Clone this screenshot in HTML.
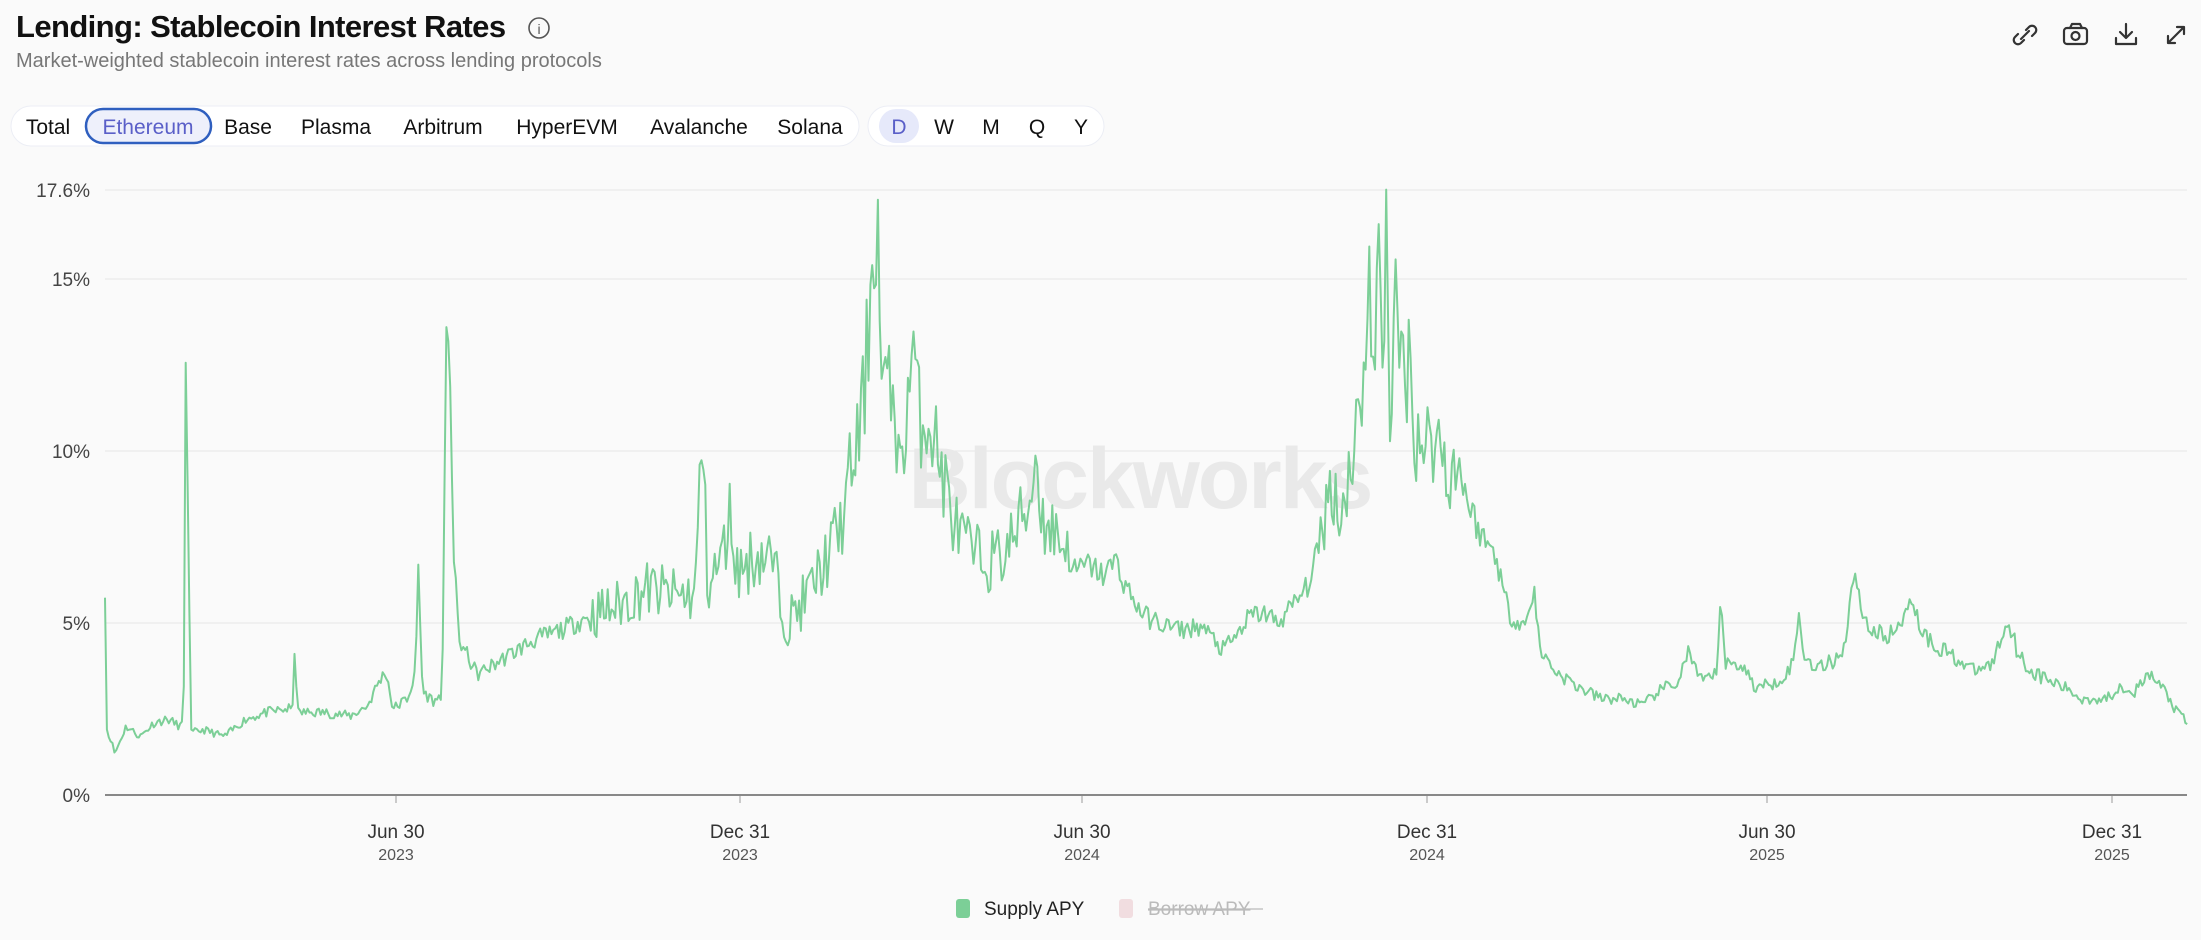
<!DOCTYPE html>
<html><head><meta charset="utf-8"><style>
html,body{margin:0;padding:0;width:2201px;height:940px;background:#fafafa;overflow:hidden;font-family:"Liberation Sans",sans-serif;}
svg text{font-family:"Liberation Sans",sans-serif;}
</style></head><body>
<svg id="s" width="2201" height="940" xmlns="http://www.w3.org/2000/svg">
<text x="16" y="37" font-size="31" font-weight="bold" fill="#111" letter-spacing="-0.6">Lending: Stablecoin Interest Rates</text>
<circle cx="539" cy="28" r="10" fill="none" stroke="#555" stroke-width="1.6"/>
<text x="539" y="34" font-size="14" fill="#555" text-anchor="middle">i</text>
<text x="16" y="67" font-size="20" fill="#777">Market-weighted stablecoin interest rates across lending protocols</text>
<rect x="11" y="106" width="848" height="40" rx="20" fill="#fff" stroke="#eceef5"/>
<rect x="86" y="109" width="125" height="34" rx="17" fill="#eef0fb" stroke="#2f5fbf" stroke-width="2.5"/>
<rect x="868" y="106" width="236" height="40" rx="20" fill="#fff" stroke="#eceef5"/>
<rect x="879" y="109" width="40" height="34" rx="17" fill="#e6e9fa"/>
<g font-size="21" fill="#111" text-anchor="middle">
<text x="48" y="134">Total</text>
<text x="148" y="134" fill="#5a5fc8">Ethereum</text>
<text x="248" y="134">Base</text>
<text x="336" y="134">Plasma</text>
<text x="443" y="134">Arbitrum</text>
<text x="567" y="134">HyperEVM</text>
<text x="699" y="134">Avalanche</text>
<text x="810" y="134">Solana</text>
<text x="899" y="134" fill="#5a5fc8">D</text>
<text x="944" y="134">W</text>
<text x="991" y="134">M</text>
<text x="1037" y="134">Q</text>
<text x="1081" y="134">Y</text>
</g>
<g fill="none" stroke="#333" stroke-width="2.2" stroke-linecap="round" stroke-linejoin="round">
<path d="M2021 39l8-8M2018 34l-3 3a4 4 0 0 0 6 6l3-3M2032 36l3-3a4 4 0 0 0-6-6l-3 3"/>
<rect x="2064" y="28" width="23" height="16" rx="3"/><path d="M2070 28l2-4h8l2 4"/><circle cx="2075.5" cy="36" r="4"/>
<path d="M2126 24v13M2120 32l6 6 6-6M2116 38v6h20v-6"/>
<path d="M2168 43l16-16M2177 27h7v7M2168 36v7h7"/>
</g>
<g stroke="#e6e6e6" stroke-width="1">
<line x1="105" x2="2187" y1="190" y2="190"/><line x1="105" x2="2187" y1="279" y2="279"/>
<line x1="105" x2="2187" y1="451" y2="451"/><line x1="105" x2="2187" y1="623" y2="623"/>
</g>
<g font-size="19" fill="#444" text-anchor="end">
<text x="90" y="197">17.6%</text><text x="90" y="286">15%</text><text x="90" y="458">10%</text><text x="90" y="630">5%</text><text x="90" y="802">0%</text>
</g>
<text x="1140" y="508" font-size="86" font-weight="bold" fill="#e9e9e9" text-anchor="middle" letter-spacing="-2">Blockworks</text>
<polyline id="ln" fill="none" stroke="#7ccf97" stroke-width="2" stroke-linejoin="round"/>
<line x1="105" x2="2187" y1="795" y2="795" stroke="#888" stroke-width="2"/>
<g stroke="#999" stroke-width="1"><line x1="396" x2="396" y1="796" y2="803"/><line x1="740" x2="740" y1="796" y2="803"/><line x1="1082" x2="1082" y1="796" y2="803"/><line x1="1427" x2="1427" y1="796" y2="803"/><line x1="1767" x2="1767" y1="796" y2="803"/><line x1="2112" x2="2112" y1="796" y2="803"/></g>
<g text-anchor="middle" fill="#333"><g font-size="19">
<text x="396" y="838">Jun 30</text><text x="740" y="838">Dec 31</text><text x="1082" y="838">Jun 30</text><text x="1427" y="838">Dec 31</text><text x="1767" y="838">Jun 30</text><text x="2112" y="838">Dec 31</text></g>
<g font-size="16" fill="#555"><text x="396" y="860">2023</text><text x="740" y="860">2023</text><text x="1082" y="860">2024</text><text x="1427" y="860">2024</text><text x="1767" y="860">2025</text><text x="2112" y="860">2025</text></g></g>
<rect x="956" y="899" width="14" height="19" rx="3" fill="#7ccf97"/>
<text x="984" y="915" font-size="19" fill="#222">Supply APY</text>
<rect x="1119" y="899" width="14" height="19" rx="3" fill="#f1dde0"/>
<text x="1148" y="915" font-size="19" fill="#bbb" text-decoration="line-through">Borrow APY</text>
<line x1="1148" x2="1263" y1="909" y2="909" stroke="#bbb" stroke-width="1.2"/>
</svg>
<script>
var k=[[75,6.1],[76.5,1.4],[78,1.8],[82,1.2],[90,2],[100,1.7],[110,2.1],[120,2.2],[128,2],[131,2.1],[132,13.9],[134,9],[136,1.8],[145,1.9],[160,1.7],[175,2.2],[190,2.4],[205,2.5],[209,2.5],[210,4.6],[212,2.4],[230,2.4],[250,2.3],[262,2.6],[270,3.3],[275,3.6],[280,2.5],[290,2.8],[296,3.5],[298,6.7],[301,3],[310,2.7],[315,3],[318,13],[320,13.9],[323,7],[327,4.5],[340,3.5],[360,4],[380,4.5],[400,4.8],[420,5.2],[440,5.5],[460,6],[480,5.8],[495,5.8],[500,10.6],[504,6],[515,7],[520,8.2],[525,6.5],[540,7],[550,6.8],[560,5],[570,5.5],[580,6.2],[590,7],[600,8],[606,9.5],[612,10.5],[616,12],[619,14],[622,16.6],[625,16.4],[627,12.5],[632,11.5],[637,11.8],[641,9],[645,11],[650,13.2],[654,11],[662,11],[670,9.5],[680,7.8],[692,7],[705,6.8],[715,7],[725,7.8],[733,8.5],[738,10],[742,8],[755,7.5],[765,6.5],[775,6.7],[785,6.4],[795,6.8],[800,6.2],[808,5.6],[815,5.2],[825,5],[840,4.8],[855,4.9],[865,4.5],[870,4.2],[880,4.6],[890,5.2],[900,5.3],[910,5],[920,5.5],[930,6],[938,7],[944,8.5],[950,9],[955,8],[962,10],[968,11],[972,13.5],[975,14.6],[978,12],[982,15.5],[985,13],[987,17.6],[989,11],[993,14],[997,12.5],[1003,12.6],[1008,10.5],[1015,10.2],[1022,10.5],[1030,9.5],[1040,9.4],[1045,8.5],[1055,7.5],[1065,7],[1070,6],[1075,5.2],[1085,5],[1090,5.3],[1092,6.3],[1096,4.2],[1110,3.5],[1125,3.1],[1140,2.8],[1155,2.8],[1170,2.6],[1180,3],[1195,3.3],[1202,4.2],[1210,3.3],[1222,3.5],[1225,6],[1228,3.8],[1240,3.8],[1250,3.1],[1265,3.3],[1275,3.7],[1279,4.5],[1281,5.4],[1284,4],[1295,3.7],[1305,3.9],[1313,4.3],[1318,6],[1322,6.2],[1328,5],[1340,4.6],[1352,4.8],[1360,5.9],[1366,5],[1375,4.4],[1385,4.2],[1395,3.9],[1405,3.6],[1418,3.8],[1425,4.6],[1430,5.1],[1436,4.2],[1445,3.6],[1460,3.3],[1475,3],[1480,2.8],[1500,2.8],[1510,3.2],[1520,3],[1530,3.5],[1540,3.1],[1548,2.5],[1557,2.1]];
var seed=11;function r(){seed=(seed*16807)%2147483647;return seed/2147483647-0.5;}
var pts=[],N=1110;
for(var i=0;i<=N;i++){var dx=75+(1557-75)*i/N;var j=0;while(j<k.length-2&&k[j+1][0]<dx)j++;
var a=k[j],b=k[j+1];var t=Math.max(0,Math.min(1,(dx-a[0])/(b[0]-a[0])));var v=a[1]+(b[1]-a[1])*t;
var amp=(dx>420&&dx<760)||(dx>940&&dx<1040)?0.14:0.06;v*=1+r()*amp*2;if(v<0.5)v=0.5;if(v>17.6)v=17.6;
var x=105+(dx-75)*1.405,y=795-v*34.4;pts.push(x.toFixed(1)+","+y.toFixed(1));}
document.getElementById("ln").setAttribute("points",pts.join(" "));
</script>
</body></html>
